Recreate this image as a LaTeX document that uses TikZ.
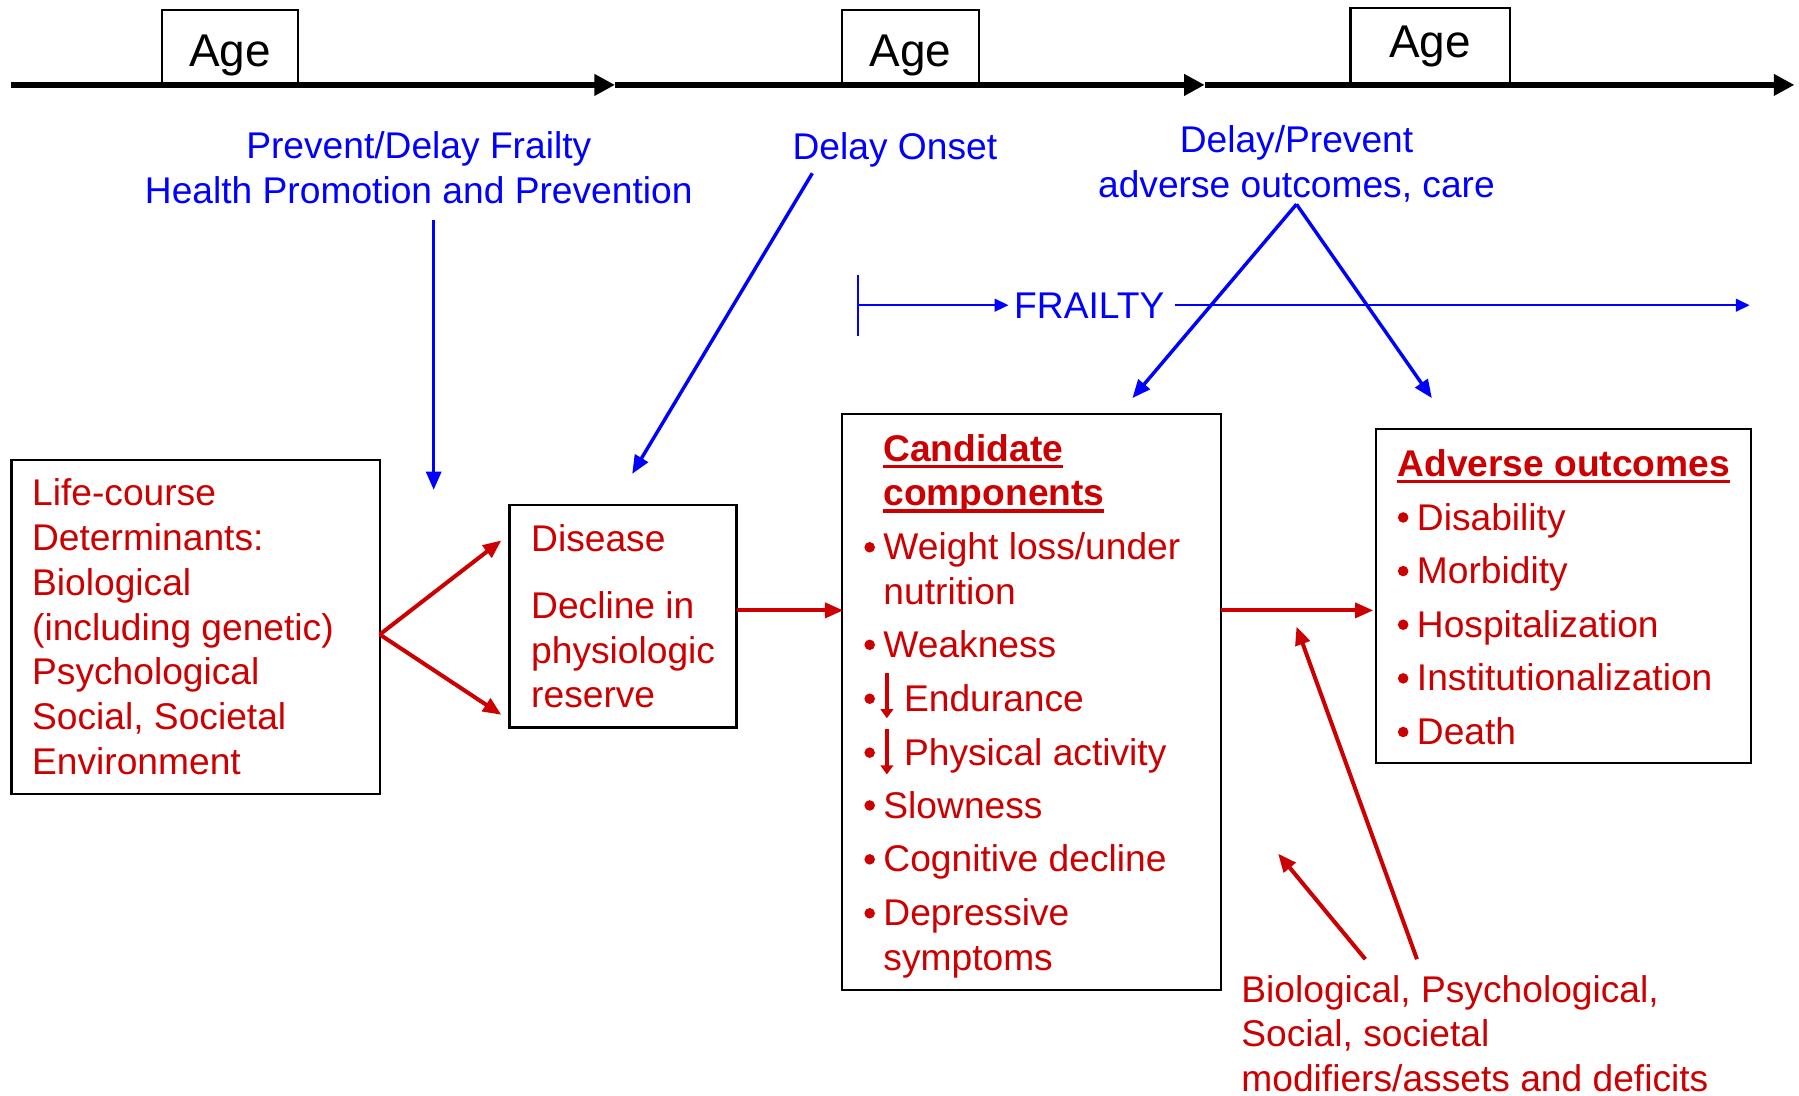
\documentclass[tikz,border=0pt]{standalone}
\usepackage{fontspec}
\setmainfont{Liberation Sans}
\usetikzlibrary{arrows.meta,calc,fit}
\definecolor{dred}{RGB}{204,0,0}
\definecolor{dblue}{RGB}{0,0,255}
\begin{document}
\begin{tikzpicture}[x=0.5pt,y=-0.5pt,
  every node/.style={inner sep=0pt,outer sep=0pt},
  txt/.style={font=\fontsize{16.2}{19.5}\selectfont},
  rtxt/.style={txt,text=dred,anchor=base west},
  btxt/.style={txt,text=dblue,anchor=base},
  agetxt/.style={font=\fontsize{20}{24}\selectfont,anchor=base},
  box/.style={draw=black,line width=1pt,rectangle,inner sep=0pt},
  axis/.style={line width=2.5pt,-{Triangle[length=9pt,width=9pt]}},
  barrow/.style={dblue,line width=1.5pt,-{Triangle[length=8pt,width=6.5pt]}},
  rarrow/.style={dred,line width=1.75pt,-{Triangle[length=8pt,width=6.5pt]}},
  fline/.style={dblue,line width=0.9pt,-{Triangle[length=6pt,width=5.5pt]}},
  fplain/.style={dblue,line width=0.9pt},
  dnarrow/.style={dred,line width=2pt,-{Triangle[length=4pt,width=5.5pt]}},
  uline/.style={dred,line width=1.5pt},
  bul/.style={circle,fill=dred,minimum size=4.6pt}]
\useasboundingbox (0,0) rectangle (1568,955);

% ---------- top axis with Age boxes ----------
\node[box,fit={(141,9) (260,76)}] (age1) {};
\node[box,fit={(734,9) (853,76)}] (age2) {};
\node[box,fit={(1177,7) (1316,74)}] (age3) {};
\node[agetxt] (age1t) at (200.5,58) {Age};
\node[agetxt] (age2t) at (793.5,58) {Age};
\node[agetxt] (age3t) at (1246.5,50) {Age};
\coordinate (ax0) at (10,74);
\coordinate (ax1) at (536,74);
\coordinate (ax2) at (1050,74);
\coordinate (ax3) at (1564,74);
\draw[axis] (ax0) -- (ax1);
\draw[axis] (ax1) -- (ax2);
\draw[axis] (ax2) -- (ax3);

% ---------- blue labels ----------
\node[btxt] (pd1) at (365,138) {Prevent/Delay Frailty};
\node[btxt] (pd2) at (365,177) {Health Promotion and Prevention};
\node[btxt] (don) at (780,139) {Delay Onset};
\node[btxt] (dp1) at (1130,133) {Delay/Prevent};
\node[btxt] (dp2) at (1130,172) {adverse outcomes, care};
\node[btxt,anchor=base west] (fr) at (884,278) {FRAILTY};

% ---------- blue arrows ----------
\coordinate (a1s) at (378,192);
\coordinate (a1e) at (378,427);
\coordinate (a2s) at (708,151);
\coordinate (a2e) at (551,413);
\coordinate (apex) at (1130,178);
\coordinate (a3e) at (987,347);
\coordinate (a4e) at (1248,347);
\draw[barrow] (a1s) -- (a1e);
\draw[barrow] (a2s) -- (a2e);
\draw[barrow] (apex) -- (a3e);
\draw[barrow] (apex) -- (a4e);

% ---------- frailty line ----------
\coordinate (ft) at (748,240);
\coordinate (fb) at (748,293);
\coordinate (f0) at (748,266);
\coordinate (f1) at (879,266);
\coordinate (f2) at (1024,266);
\coordinate (f3) at (1525,266);
\draw[fplain] (ft) -- (fb);
\draw[fline] (f0) -- (f1);
\draw[fline] (f2) -- (f3);

% ---------- boxes ----------
\node[box,fit={(10,401) (331,692)}] (lc) {};
\node[box,fit={(444,440) (642,634)}] (dis) {};
\node[box,fit={(734,361) (1064,863)}] (cand) {};
\node[box,fit={(1199,374) (1526,665)}] (adv) {};

% life-course text
\foreach \t [count=\i] in {Life-course,Determinants:,Biological,(including genetic),Psychological,{Social, Societal},Environment}
  \node[rtxt] (lct\i) at (28,{441+39*(\i-1)}) {\t};

% disease text
\node[rtxt] (dis1) at (463,481) {Disease};
\node[rtxt] (dis2) at (463,539) {Decline in};
\node[rtxt] (dis3) at (463,578) {physiologic};
\node[rtxt] (dis4) at (463,617) {reserve};

% candidate components
\node[rtxt,font=\fontsize{16.2}{19.5}\selectfont\bfseries] (ct1) at (770,402) {Candidate};
\node[rtxt,font=\fontsize{16.2}{19.5}\selectfont\bfseries] (ct2) at (770,441) {components};
\draw[uline] ($(ct1.base west)+(0,4.5)$) -- ($(ct1.base east)+(0,4.5)$);
\draw[uline] ($(ct2.base west)+(0,4.5)$) -- ($(ct2.base east)+(0,4.5)$);

\node[bul] (cb1) at (758,477) {};
\node[rtxt] (c1a) at (770,488) {Weight loss/under};
\node[rtxt] (c1b) at (770,527) {nutrition};
\node[bul] (cb2) at (758,562) {};
\node[rtxt] (c2) at (770,573) {Weakness};
\node[bul] (cb3) at (758,609) {};
\node[rtxt] (c3) at (788,620) {Endurance};
\node[bul] (cb4) at (758,656) {};
\node[rtxt] (c4) at (788,667) {Physical activity};
\node[bul] (cb5) at (758,702) {};
\node[rtxt] (c5) at (770,713) {Slowness};
\node[bul] (cb6) at (758,749) {};
\node[rtxt] (c6) at (770,760) {Cognitive decline};
\node[bul] (cb7) at (758,796) {};
\node[rtxt] (c7a) at (770,807) {Depressive};
\node[rtxt] (c7b) at (770,846) {symptoms};

\coordinate (dn1s) at (773,587);
\coordinate (dn1e) at (773,626);
\coordinate (dn2s) at (773,635);
\coordinate (dn2e) at (773,675);
\draw[dnarrow] (dn1s) -- (dn1e);
\draw[dnarrow] (dn2s) -- (dn2e);

% adverse outcomes
\node[rtxt,font=\fontsize{16.2}{19.5}\selectfont\bfseries] (at1) at (1218,415) {Adverse outcomes};
\draw[uline] ($(at1.base west)+(0,4.5)$) -- ($(at1.base east)+(0,4.5)$);
\foreach \t [count=\i] in {Disability,Morbidity,Hospitalization,Institutionalization,Death}{
  \node[bul] (ab\i) at (1223,{451+46.75*(\i-1)}) {};
  \node[rtxt] (a\i) at (1235,{462+46.75*(\i-1)}) {\t};
}

% modifiers text
\node[rtxt] (mod1) at (1082,874) {Biological, Psychological,};
\node[rtxt] (mod2) at (1082,912) {Social, societal};
\node[rtxt] (mod3) at (1082,951) {modifiers/assets and deficits};

% ---------- red arrows ----------
\coordinate (lcout) at (331,553);
\coordinate (d1) at (437,471);
\coordinate (d2) at (437,623);
\coordinate (dc1) at (642,532);
\coordinate (dc2) at (735,532);
\coordinate (ca1) at (1064,532);
\coordinate (ca2) at (1197,532);
\coordinate (m1s) at (1235,836);
\coordinate (m1e) at (1130,546);
\coordinate (m2s) at (1190,836);
\coordinate (m2e) at (1114,744);
\draw[rarrow] (lcout) -- (d1);
\draw[rarrow] (lcout) -- (d2);
\draw[rarrow] (dc1) -- (dc2);
\draw[rarrow] (ca1) -- (ca2);
\draw[rarrow] (m1s) -- (m1e);
\draw[rarrow] (m2s) -- (m2e);
\end{tikzpicture}
\end{document}
